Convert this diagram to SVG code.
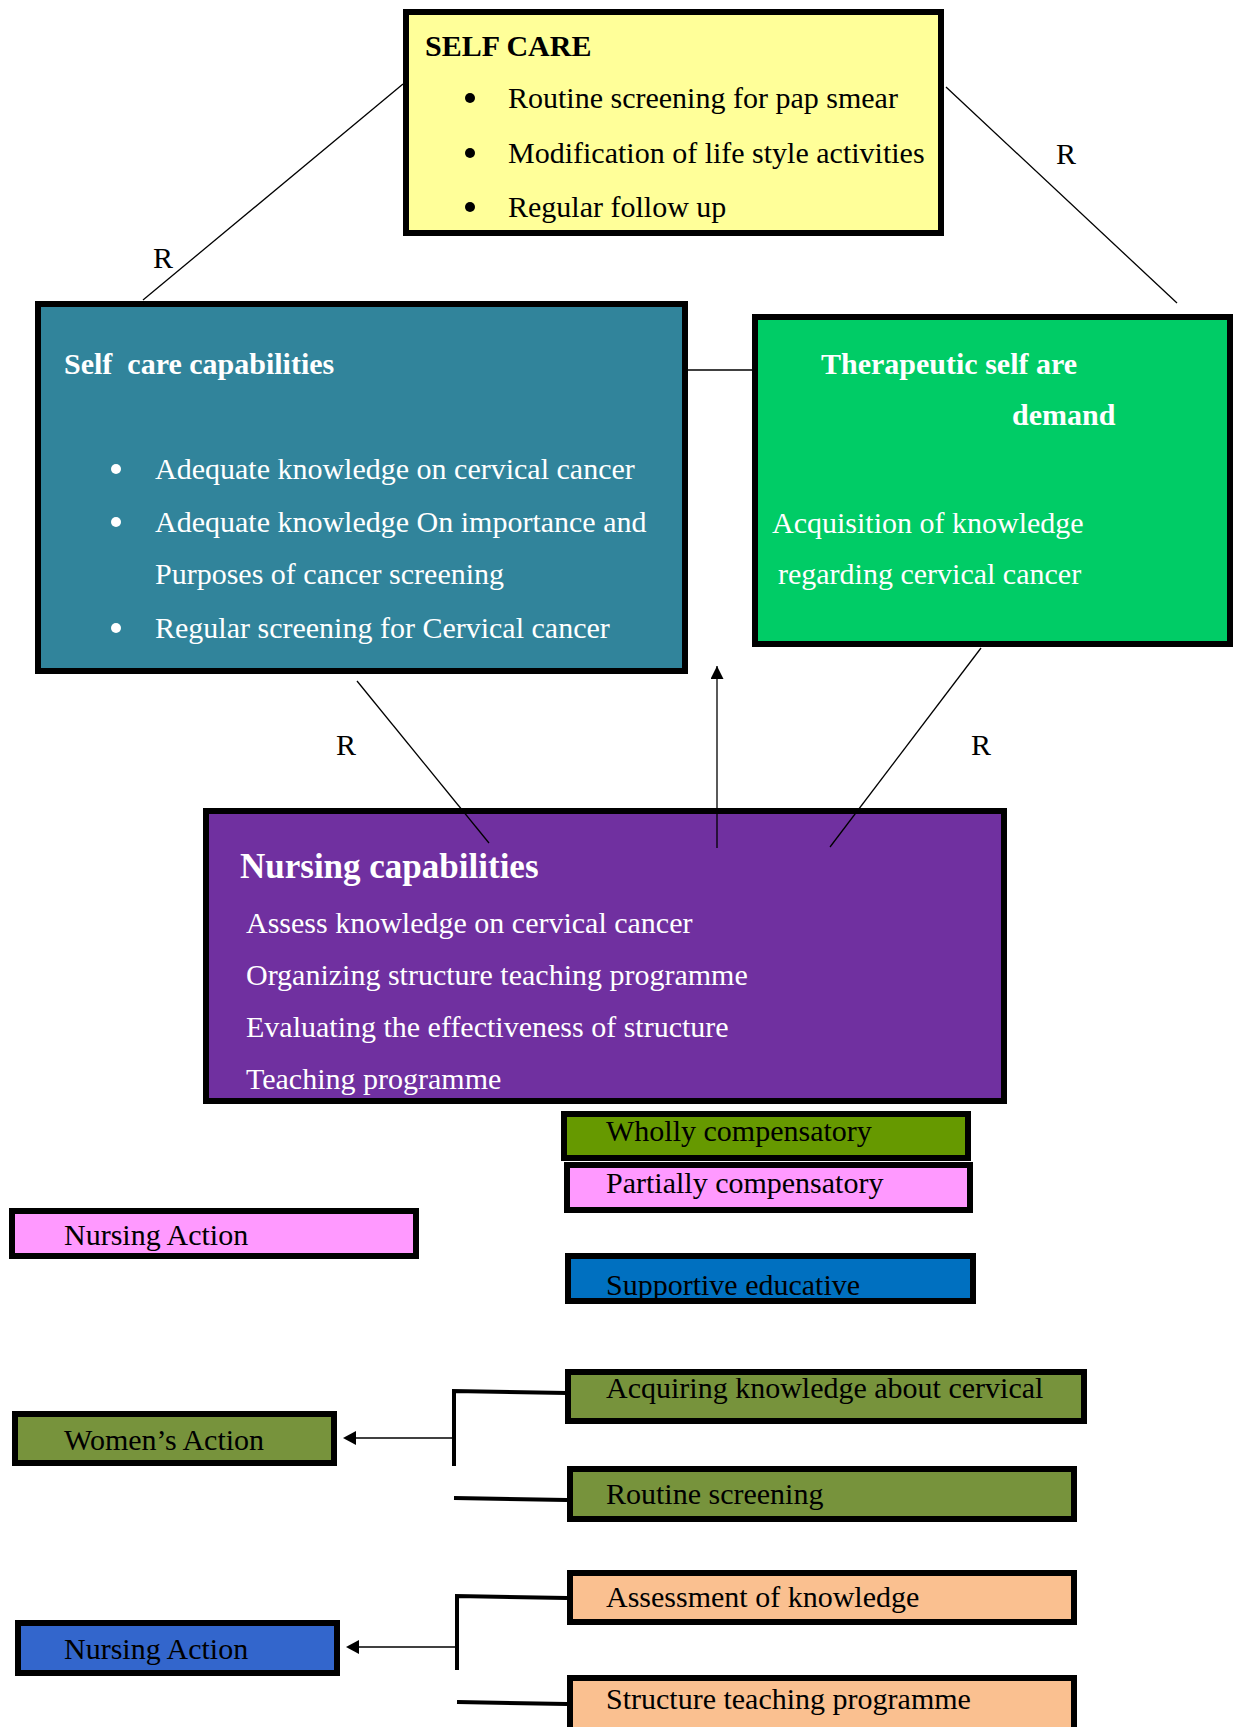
<svg xmlns="http://www.w3.org/2000/svg" width="1233" height="1727" viewBox="0 0 1233 1727">
<style>
text{font-family:"Liberation Serif","Times New Roman",serif;font-size:30px;white-space:pre}
.b{font-weight:bold}
.w{fill:#fff}
.k{fill:#000}
.box{stroke:#000;stroke-width:6}
.ln{stroke:#000;stroke-width:1.3;fill:none}
.br{stroke:#000;stroke-width:4;fill:none}
</style>
<defs>
<marker id="ah" viewBox="0 0 10 10" refX="10" refY="5" markerWidth="15" markerHeight="13" markerUnits="userSpaceOnUse" orient="auto"><path d="M0,0L10,5L0,10z" fill="#000"/></marker>
</defs>
<rect width="1233" height="1727" fill="#fff"/>
<g id="self-care">
<rect class="box" x="406" y="12" width="535" height="221" fill="#FFFF99"/>
<text class="b k" x="425" y="56">SELF CARE</text>
<circle cx="470" cy="98" r="5"/><circle cx="470" cy="153" r="5"/><circle cx="470" cy="207" r="5"/>
<text class="k" x="508" y="108">Routine screening for pap smear</text>
<text class="k" x="508" y="163">Modification of life style activities</text>
<text class="k" x="508" y="217">Regular follow up</text>
</g>
<g id="self-care-capabilities">
<rect class="box" x="38" y="304" width="647" height="367" fill="#31849B"/>
<text class="b w" x="64" y="374">Self  care capabilities</text>
<circle cx="116" cy="469" r="5" fill="#fff"/><circle cx="116" cy="522" r="5" fill="#fff"/><circle cx="116" cy="628" r="5" fill="#fff"/>
<text class="w" x="155" y="479">Adequate knowledge on cervical cancer</text>
<text class="w" x="155" y="532">Adequate knowledge On importance and</text>
<text class="w" x="155" y="584">Purposes of cancer screening</text>
<text class="w" x="155" y="638">Regular screening for Cervical cancer</text>
</g>
<g id="therapeutic-demand">
<rect class="box" x="755" y="317" width="475" height="327" fill="#00CC66"/>
<text class="b w" x="821" y="374">Therapeutic self are</text>
<text class="b w" x="1012" y="425">demand</text>
<text class="w" x="772" y="533">Acquisition of knowledge</text>
<text class="w" x="778" y="584">regarding cervical cancer</text>
</g>
<g id="nursing-capabilities">
<rect class="box" x="206" y="811" width="798" height="290" fill="#7030A0"/>
<text class="b w" x="240" y="878" style="font-size:35px">Nursing capabilities</text>
<text class="w" x="246" y="933">Assess knowledge on cervical cancer</text>
<text class="w" x="246" y="985">Organizing structure teaching programme</text>
<text class="w" x="246" y="1037">Evaluating the effectiveness of structure</text>
<text class="w" x="246" y="1089">Teaching programme</text>
</g>
<g id="wholly">
<rect class="box" x="564" y="1114" width="404" height="44" fill="#669900"/>
<text class="k" x="606" y="1141">Wholly compensatory</text>
</g>
<g id="partially">
<rect class="box" x="567" y="1165" width="403" height="45" fill="#FF99FF"/>
<text class="k" x="606" y="1193">Partially compensatory</text>
</g>
<g id="nursing-action-1">
<rect class="box" x="12" y="1211" width="404" height="45" fill="#FF99FF"/>
<text class="k" x="64" y="1245">Nursing Action</text>
</g>
<g id="supportive">
<rect class="box" x="568" y="1256" width="405" height="45" fill="#0070C0"/>
<text class="k" x="606" y="1295">Supportive educative</text>
</g>
<g id="acquiring">
<rect class="box" x="568" y="1372" width="516" height="49" fill="#77933C"/>
<text class="k" x="606" y="1398">Acquiring knowledge about cervical</text>
</g>
<g id="womens-action">
<rect class="box" x="15" y="1414" width="319" height="49" fill="#77933C"/>
<text class="k" x="64" y="1450">Women’s Action</text>
</g>
<g id="routine">
<rect class="box" x="570" y="1469" width="504" height="50" fill="#77933C"/>
<text class="k" x="606" y="1504">Routine screening</text>
</g>
<g id="assessment">
<rect class="box" x="570" y="1573" width="504" height="49" fill="#FAC090"/>
<text class="k" x="606" y="1607">Assessment of knowledge</text>
</g>
<g id="nursing-action-2">
<rect class="box" x="18" y="1623" width="319" height="50" fill="#3366CC"/>
<text class="k" x="64" y="1659">Nursing Action</text>
</g>
<g id="structure">
<rect class="box" x="570" y="1678" width="504" height="60" fill="#FAC090"/>
<text class="k" x="606" y="1709">Structure teaching programme</text>
</g>
<g id="connectors">
<line class="ln" x1="403" y1="84" x2="143" y2="300"/>
<line class="ln" x1="946" y1="87" x2="1177" y2="303"/>
<line class="ln" x1="688" y1="370" x2="755" y2="370"/>
<line class="ln" x1="357" y1="681" x2="489" y2="843"/>
<line class="ln" x1="981" y1="648" x2="830" y2="847"/>
<line class="ln" x1="717" y1="848" x2="717" y2="666" marker-end="url(#ah)"/>
<text class="k" x="163" y="268" text-anchor="middle">R</text>
<text class="k" x="1066" y="164" text-anchor="middle">R</text>
<text class="k" x="346" y="755" text-anchor="middle">R</text>
<text class="k" x="981" y="755" text-anchor="middle">R</text>
<polyline class="br" points="567,1393 454,1391 454,1466"/>
<line class="br" x1="454" y1="1498" x2="567" y2="1500"/>
<line class="ln" x1="454" y1="1438" x2="355" y2="1438" stroke-width="2.5"/>
<path d="M343,1438L356,1431L356,1445z" fill="#000"/>
<polyline class="br" points="567,1598 457,1596 457,1670"/>
<line class="br" x1="457" y1="1702" x2="567" y2="1704"/>
<line class="ln" x1="457" y1="1647" x2="358" y2="1647" stroke-width="2.5"/>
<path d="M346,1647L359,1640L359,1654z" fill="#000"/>
</g>
</svg>
